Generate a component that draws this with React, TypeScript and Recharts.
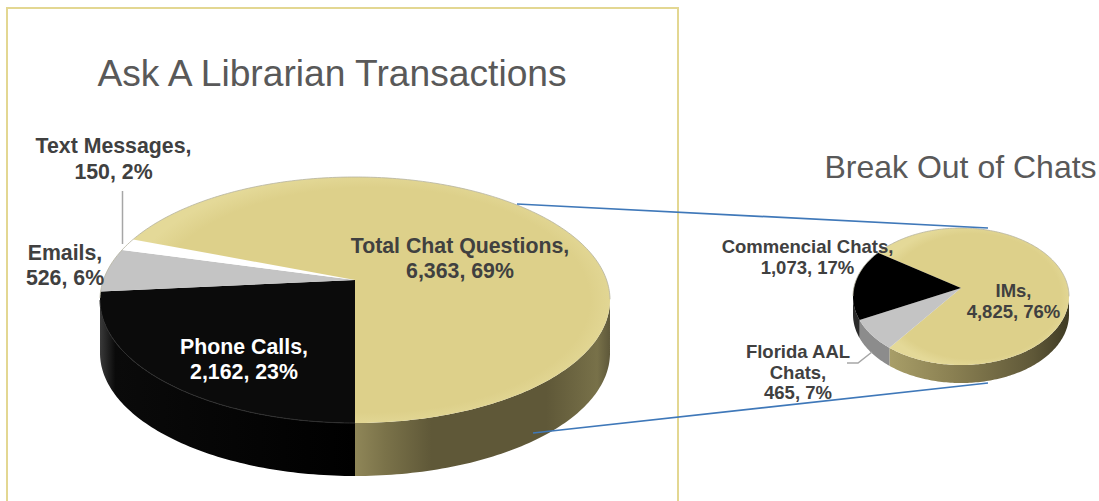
import React from "react";
import { PieChart, Pie } from "recharts";

const transactionNames = ["Phone Calls", "Emails", "Text Messages", "Total Chat Questions"];
const transactionValues = [2162, 526, 150, 6363];
const chatNames = ["IMs", "Florida AAL Chats", "Commencial Chats"];
const chatValues = [4825, 465, 1073];

const transactionData = transactionNames.map((name, i) => ({ name, value: transactionValues[i] }));
const chatData = chatNames.map((name, i) => ({ name, value: chatValues[i] }));

const faceFill: Record<string, string> = {
  "Phone Calls": "#0b0b0b",
  Emails: "#c4c4c4",
  "Text Messages": "#ffffff",
  "Total Chat Questions": "url(#goldFace)",
  IMs: "url(#goldFace)",
  "Florida AAL Chats": "#c4c4c4",
  "Commencial Chats": "#000000",
};
const wallFill: Record<string, string> = {
  "Phone Calls": "url(#blackWall)",
  Emails: "#8a8a8a",
  "Text Messages": "#dddddd",
  "Total Chat Questions": "url(#goldWall)",
  IMs: "url(#goldWallSmall)",
  "Florida AAL Chats": "#8c8c8c",
  "Commencial Chats": "#2a2a2a",
};

type LabelSpec = { x: number; y: number; lines: string[]; fill: string; size: number; gap: number };
const labelSpecs: Record<string, LabelSpec> = {
  "Phone Calls": { x: 244, y: 354, lines: ["Phone Calls,", "2,162, 23%"], fill: "#ffffff", size: 21.3, gap: 25 },
  Emails: { x: 65, y: 260, lines: ["Emails,", "526, 6%"], fill: "#404040", size: 21.3, gap: 25 },
  "Text Messages": { x: 113.5, y: 153, lines: ["Text Messages,", "150, 2%"], fill: "#404040", size: 21.3, gap: 26 },
  "Total Chat Questions": { x: 460, y: 253, lines: ["Total Chat Questions,", "6,363, 69%"], fill: "#404040", size: 21.3, gap: 25 },
  IMs: { x: 1013.5, y: 297, lines: ["IMs,", "4,825, 76%"], fill: "#404040", size: 18.5, gap: 21 },
  "Florida AAL Chats": { x: 798, y: 358, lines: ["Florida AAL", "Chats,", "465, 7%"], fill: "#404040", size: 18.5, gap: 20.5 },
  "Commencial Chats": { x: 807.5, y: 253, lines: ["Commencial Chats,", "1,073, 17%"], fill: "#404040", size: 18.5, gap: 21 },
};

const RAD = Math.PI / 180;

// Elliptical, perspective-tilted drawing of a sector whose angles come from the Pie.
function tiltedSector(squash: number, tilt: number, depth: number) {
  return function Shape(props: any) {
    const { cx, cy, outerRadius, startAngle, endAngle, name, payload } = props;
    const key = name ?? payload?.name;
    const rx = outerRadius;
    const ry = outerRadius * squash;
    const point = (deg: number) => {
      const s = Math.sin(deg * RAD);
      const c = Math.cos(deg * RAD);
      const d = 1 + tilt * s;
      const X = (Math.sqrt(1 - tilt * tilt) * c) / d;
      const Y = (s + tilt) / d;
      return { x: cx + rx * X, y: cy - ry * Y, Y };
    };
    const steps = Math.max(2, Math.ceil(Math.abs(endAngle - startAngle)));
    const arc = Array.from({ length: steps + 1 }, (_, i) =>
      point(startAngle + ((endAngle - startAngle) * i) / steps)
    );
    const apex = { x: cx, y: cy - ry * tilt };
    const face =
      `M${apex.x},${apex.y} ` + arc.map((p) => `L${p.x.toFixed(2)},${p.y.toFixed(2)}`).join(" ") + " Z";
    const front = arc.filter((p) => p.Y <= 0);
    const back = arc.filter((p) => p.Y >= 0);
    const wall =
      front.length > 1
        ? "M" +
          front.map((p) => `${p.x.toFixed(2)},${p.y.toFixed(2)}`).join(" L") +
          " L" +
          [...front]
            .reverse()
            .map((p) => `${p.x.toFixed(2)},${(p.y + depth).toFixed(2)}`)
            .join(" L") +
          " Z"
        : null;
    const rim =
      front.length > 1 ? "M" + front.map((p) => `${p.x.toFixed(2)},${p.y.toFixed(2)}`).join(" L") : null;
    const backRim =
      back.length > 1 ? "M" + back.map((p) => `${p.x.toFixed(2)},${p.y.toFixed(2)}`).join(" L") : null;
    return (
      <g>
        {wall && <path d={wall} fill={wallFill[key]} stroke="none" />}
        <path d={face} fill={faceFill[key]} stroke="none" />
        {rim && key === "Phone Calls" && <path d={rim} fill="none" stroke="#2e2e2e" strokeWidth={1} />}
        {backRim && <path d={backRim} fill="none" stroke="#b5b2a0" strokeWidth={0.8} />}
      </g>
    );
  };
}

function renderLabel(props: any) {
  const key = props.name ?? props.payload?.name;
  const spec = labelSpecs[key];
  if (!spec) return null;
  return (
    <text
      key={key}
      textAnchor="middle"
      fontFamily="'Liberation Sans', Arial, sans-serif"
      fontWeight="bold"
      fontSize={spec.size}
      fill={spec.fill}
    >
      {spec.lines.map((line, i) => (
        <tspan key={line} x={spec.x} y={spec.y + i * spec.gap}>
          {line}
        </tspan>
      ))}
    </text>
  );
}

export default function App() {
  return (
    <div style={{ position: "absolute", left: 0, top: 0, width: 1099, height: 501, overflow: "hidden", background: "#fff" }}>
      <PieChart width={1099} height={501} margin={{ top: 0, right: 0, bottom: 0, left: 0 }}>
        <defs>
          <radialGradient id="goldFace" cx="0.5" cy="0.5" r="0.52">
            <stop offset="0" stopColor="#ddd08a" />
            <stop offset="0.88" stopColor="#ddd08a" />
            <stop offset="1" stopColor="#e4d998" />
          </radialGradient>
          <linearGradient id="goldWall" x1="0" y1="0" x2="1" y2="0">
            <stop offset="0" stopColor="#8f8658" />
            <stop offset="0.12" stopColor="#7a7249" />
            <stop offset="0.3" stopColor="#5f5838" />
            <stop offset="0.75" stopColor="#5f5838" />
            <stop offset="0.95" stopColor="#787149" />
            <stop offset="1" stopColor="#5e583a" />
          </linearGradient>
          <linearGradient id="goldWallSmall" x1="0" y1="0" x2="1" y2="0">
            <stop offset="0" stopColor="#a89e68" />
            <stop offset="0.35" stopColor="#8a8052" />
            <stop offset="0.8" stopColor="#5f5838" />
            <stop offset="1" stopColor="#3f3b24" />
          </linearGradient>
          <linearGradient id="blackWall" x1="0" y1="0" x2="1" y2="0">
            <stop offset="0" stopColor="#3a3a3a" />
            <stop offset="0.06" stopColor="#0a0a0a" />
            <stop offset="1" stopColor="#000000" />
          </linearGradient>
        </defs>

        <path d="M7,501 L7,8 L678,8 L678,501" fill="none" stroke="#e3d792" strokeWidth={2} />

        <Pie
          data={transactionData}
          dataKey="value"
          nameKey="name"
          cx={355}
          cy={300}
          innerRadius={0}
          outerRadius={255}
          startAngle={270}
          endAngle={-90}
          stroke="none"
          isAnimationActive={false}
          shape={tiltedSector(123 / 255, 20 / 123, 53)}
          label={renderLabel}
          labelLine={false}
        />
        <Pie
          data={chatData}
          dataKey="value"
          nameKey="name"
          cx={961}
          cy={296.5}
          innerRadius={0}
          outerRadius={108}
          startAngle={146}
          endAngle={-214}
          stroke="none"
          isAnimationActive={false}
          shape={tiltedSector(68.5 / 108, 8.5 / 68.5, 18)}
          label={renderLabel}
          labelLine={false}
        />

        <text x={332} y={86} textAnchor="middle" fontFamily="'Liberation Sans', Arial, sans-serif" fontSize={37.2} fill="#595959">
          Ask A Librarian Transactions
        </text>
        <text x={960.5} y={178} textAnchor="middle" fontFamily="'Liberation Sans', Arial, sans-serif" fontSize={32} fill="#595959">
          Break Out of Chats
        </text>
      </PieChart>
      <svg width={1099} height={501} style={{ position: "absolute", left: 0, top: 0, pointerEvents: "none" }}>
        <path d="M517,204 L988,228" fill="none" stroke="#3f78b9" strokeWidth={1.75} />
        <path d="M533,433 L988,383" fill="none" stroke="#3f78b9" strokeWidth={1.75} />
        <path d="M122.5,191 L122.5,244" fill="none" stroke="#a6a6a6" strokeWidth={1.5} />
        <path d="M847,363 L858,363 L872,352" fill="none" stroke="#a6a6a6" strokeWidth={1.5} />
      </svg>
    </div>
  );
}
